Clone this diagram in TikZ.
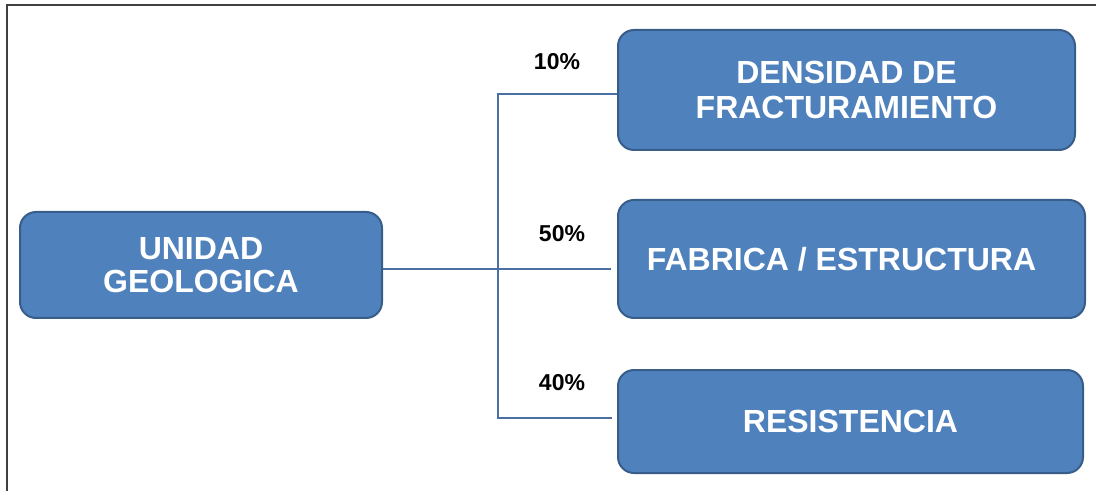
\documentclass[tikz,border=0pt]{standalone}
\usepackage{fontspec}
\setmainfont{Liberation Sans}
\usepackage{xcolor}
\usepackage{tikz}
\usetikzlibrary{calc,positioning}
\definecolor{boxblue}{HTML}{4F81BD}
\definecolor{boxedge}{HTML}{385D8A}
\definecolor{linkblue}{HTML}{4A6FA5}
\definecolor{framegray}{HTML}{404040}

\begin{document}
\begin{tikzpicture}[
  x=0.5pt, y=-0.5pt,
  unit/.style={rectangle, rounded corners=8pt, draw=boxedge, fill=boxblue, line width=1pt,
    text=white, font=\fontsize{16}{16.5}\selectfont\bfseries, align=center, inner sep=0pt},
  pct/.style={font=\fontsize{11.5}{12}\selectfont\bfseries, text=black, inner sep=0pt},
  link/.style={draw=linkblue, line width=0.75pt}
]
  \useasboundingbox (0,0) rectangle (1096,491);
  % frame
  \draw[framegray, line width=1pt] (7,491) -- (7,5) -- (1096,5);
  % boxes
  \node[unit, minimum width=181pt, minimum height=53pt] (unidad) at (201,265) {UNIDAD\\GEOLOGICA};
  \node[unit, minimum width=228.5pt, minimum height=60pt] (densidad) at (846.5,90) {DENSIDAD DE\\[1pt]FRACTURAMIENTO};
  \node[unit, minimum width=233.5pt, minimum height=59pt] (fabrica) at (851.5,259) {\hspace*{-10pt}FABRICA / ESTRUCTURA};
  \node[unit, minimum width=232.5pt, minimum height=51.5pt] (resist) at (850.5,421.5) {RESISTENCIA};
  % connectors
  \coordinate (split) at (498,269);
  \coordinate (top) at (498,94);
  \coordinate (bot) at (498,418);
  \draw[link] (unidad.east |- split) -- ([xshift=-3pt]split -| fabrica.west);
  \draw[link] (top -| densidad.west) -- (top) -- (bot) -- ([xshift=-2.5pt]bot -| resist.west);
  % weights
  \node[pct] (w10) at (557,62) {10\%};
  \node[pct] (w50) at (562,234) {50\%};
  \node[pct] (w40) at (562,383) {40\%};
\end{tikzpicture}
\end{document}
